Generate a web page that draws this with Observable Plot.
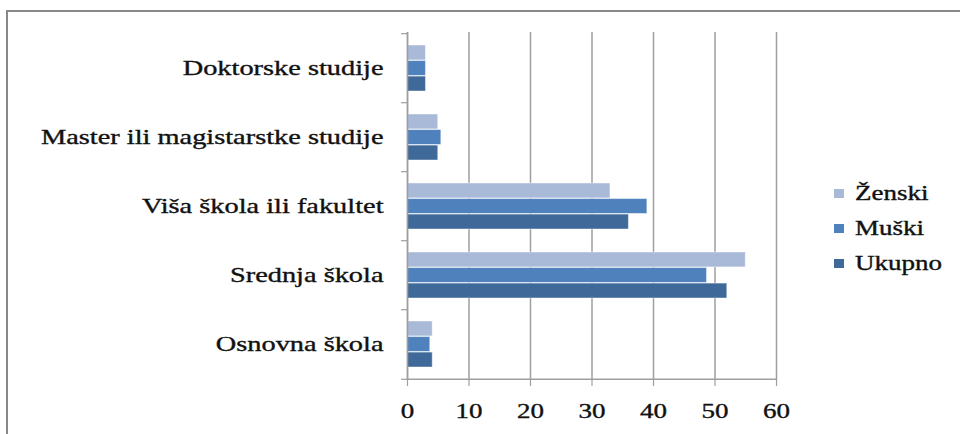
<!DOCTYPE html>
<html>
<head>
<meta charset="utf-8">
<script src="https://cdn.jsdelivr.net/npm/d3@7"></script>
<script src="https://cdn.jsdelivr.net/npm/@observablehq/plot@0.6"></script>
<style>
  html, body { margin: 0; padding: 0; background: #fff; }
  #wrap { position: relative; width: 960px; height: 434px; overflow: hidden; font-family: "Liberation Serif", serif; }
  #border { position: absolute; left: 6px; top: 10px; width: 1000px; height: 500px; border-left: 2px solid #888; border-top: 2px solid #888; box-sizing: border-box; }
  #chart { position: absolute; left: 0; top: 0; }
  #legend { position: absolute; left: 834px; top: 176px; }
  .item { display: flex; align-items: center; height: 35px; }
  .sw { width: 10px; height: 9px; margin-right: 11px; }
  .lab { font-size: 20px; color: #111; -webkit-text-stroke: 0.35px #111; transform: scaleX(1.35); transform-origin: left center; display: inline-block; }
</style>
</head>
<body>
<div id="wrap">
  <div id="border"></div>
  <div id="chart"></div>
  <div id="legend"></div>
</div>
<script>
const categories = ["Doktorske studije", "Master ili magistarstke studije", "Viša škola ili fakultet", "Srednja škola", "Osnovna škola"];
const series = ["Ženski", "Muški", "Ukupno"];
const zenski = [3, 5, 33, 55, 4.1];
const muski = [3, 5.5, 39, 48.7, 3.7];
const ukupno = [3, 5, 36, 52, 4.1];
const xTicks = [0, 10, 20, 30, 40, 50, 60];
const colors = ["#A9B9D8", "#4F81BD", "#3F6999"];

const seriesValues = [zenski, muski, ukupno];
const data = [];
categories.forEach((c, i) => series.forEach((s, j) => data.push({category: c, series: s, value: seriesValues[j][i]})));

const W = 960, H = 434, mT = 32, mB = 54, mL = 407, mR = 184;
const step = (H - mT - mB) / categories.length;
const band = step * 0.67;
const third = band / 3;

const gray = "#9f9f9f";
const barMarks = series.map((s, j) => Plot.barX(data.filter(d => d.series === s), {
  x: "value", y: "category", fill: "series",
  insetTop: j * third, insetBottom: (2 - j) * third,
  stroke: "#ffffff", strokeOpacity: 0.45, strokeWidth: 1
}));

const chart = Plot.plot({
  width: W, height: H,
  marginTop: mT, marginBottom: mB, marginLeft: mL, marginRight: mR,
  style: {fontFamily: "Liberation Serif, serif", background: "transparent"},
  x: {domain: [0, 60], axis: null, label: null},
  y: {domain: categories, paddingInner: 0.33, paddingOuter: 0.165, axis: null, label: null},
  color: {domain: series, range: colors},
  marks: [
    Plot.gridX(xTicks, {stroke: gray, strokeOpacity: 1, strokeWidth: 1.5}),
    ...barMarks,
    Plot.ruleX([0], {stroke: gray, strokeWidth: 1.5}),
    Plot.ruleY([categories[categories.length - 1]], {dy: step / 2, stroke: gray, strokeWidth: 1.5}),
    Plot.axisY(categories, {tickSize: 6, dy: -step / 2, text: null, label: null, stroke: gray, strokeWidth: 1.2}),
    Plot.axisY([categories[categories.length - 1]], {tickSize: 6, dy: step / 2, text: null, label: null, stroke: gray, strokeWidth: 1.2}),
    Plot.axisY({tickSize: 0, tickPadding: 24, fontSize: 21, fill: "#111", label: null}),
    Plot.axisX({ticks: xTicks, tickSize: 6, tickPadding: 17, fontSize: 20, fill: "#111", stroke: gray, strokeWidth: 1.2, label: null})
  ]
});
document.getElementById("chart").appendChild(chart);

// Stretch the text horizontally to match the wide serif rendering of the original
chart.querySelectorAll("text").forEach(t => {
  const len = t.getComputedTextLength();
  if (len > 0) {
    t.setAttribute("textLength", (len * 1.35).toFixed(1));
    t.setAttribute("lengthAdjust", "spacingAndGlyphs");
    t.style.stroke = "#111";
    t.style.strokeWidth = "0.35px";
  }
});

const legend = document.getElementById("legend");
series.forEach((s, j) => {
  const item = document.createElement("div");
  item.className = "item";
  const sw = document.createElement("span");
  sw.className = "sw";
  sw.style.background = colors[j];
  const lab = document.createElement("span");
  lab.className = "lab";
  lab.textContent = s;
  item.appendChild(sw);
  item.appendChild(lab);
  legend.appendChild(item);
});
</script>
</body>
</html>
